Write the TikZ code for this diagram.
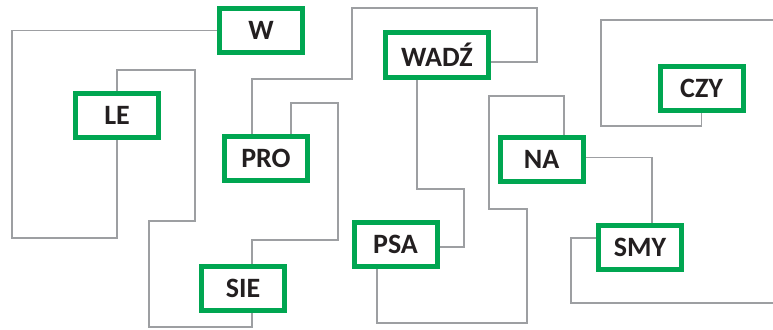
\documentclass[tikz,border=0pt]{standalone}
\usepackage{fontspec}
\setmainfont{Carlito}
\usepackage{tikz}
\usetikzlibrary{positioning,calc}

\definecolor{boxgreen}{HTML}{00A651}
\definecolor{wiregray}{HTML}{9D9FA2}
\definecolor{wordink}{HTML}{231F20}

\tikzset{
  wordbox/.style={draw=boxgreen, line width=5pt, fill=white, minimum width=83pt, minimum height=44pt,
    inner sep=0pt, text=wordink, font=\fontsize{28}{33}\selectfont\bfseries},
  wire/.style={draw=wiregray, line width=1.8pt}
}

\begin{document}
\begin{tikzpicture}[x=1pt, y=-1pt]
          \useasboundingbox (0,0) rectangle (773,329);

          % nodes
          \node[wordbox] (w) at (261,30.5) {W};%
          \node[wordbox] (le) at (117,115) {LE};%
          \node[wordbox] (pro) at (266,158.5) {PRO};%
          \node[wordbox] (sie) at (243,288.5) {SIE};%
          \node[wordbox, minimum width=103pt] (wadz) at (437,55) {WADŹ};%
          \node[wordbox] (psa) at (395.5,244) {PSA};%
          \node[wordbox] (na) at (541.5,159.5) {NA};%
          \node[wordbox] (smy) at (640,247.5) {SMY};%
          \node[wordbox] (czy) at (701.5,88.5) {CZY};%

          % free ends at the right margin
          \coordinate (czy_end) at (773,20);
          \coordinate (smy_end) at (773,303);

          % edges
          \draw[wire] (w.west) -| (12,238) -| (le.south);
          \draw[wire] (le.north) |- (195,70) |- (149,221) |- (252,327) -- ([xshift=9pt]sie.south);
          \draw[wire] ([xshift=9pt]sie.north) |- (338,240) |- (291,103) -- ([xshift=25pt]pro.north);
          \draw[wire] ([xshift=-14pt]pro.north) |- (352,79) |- (537,8) |- ([yshift=-7pt]wadz.east);
          \draw[wire] ([xshift=-20pt]wadz.south) |- (464,189) |- ([yshift=-3pt]psa.east);
          \draw[wire] ([xshift=-18.5pt]psa.south) |- (527,323) |- (489,209) |- (564,96) -- ([xshift=22.5pt]na.north);
          \draw[wire] ([yshift=2pt]na.east) -| ([xshift=12pt]smy.north);
          \draw[wire] ([yshift=9.5pt]smy.west) -| (571,303) -- (smy_end);
          \draw[wire] (czy.south) |- (601,126) |- (czy_end);

\end{tikzpicture}
\end{document}
